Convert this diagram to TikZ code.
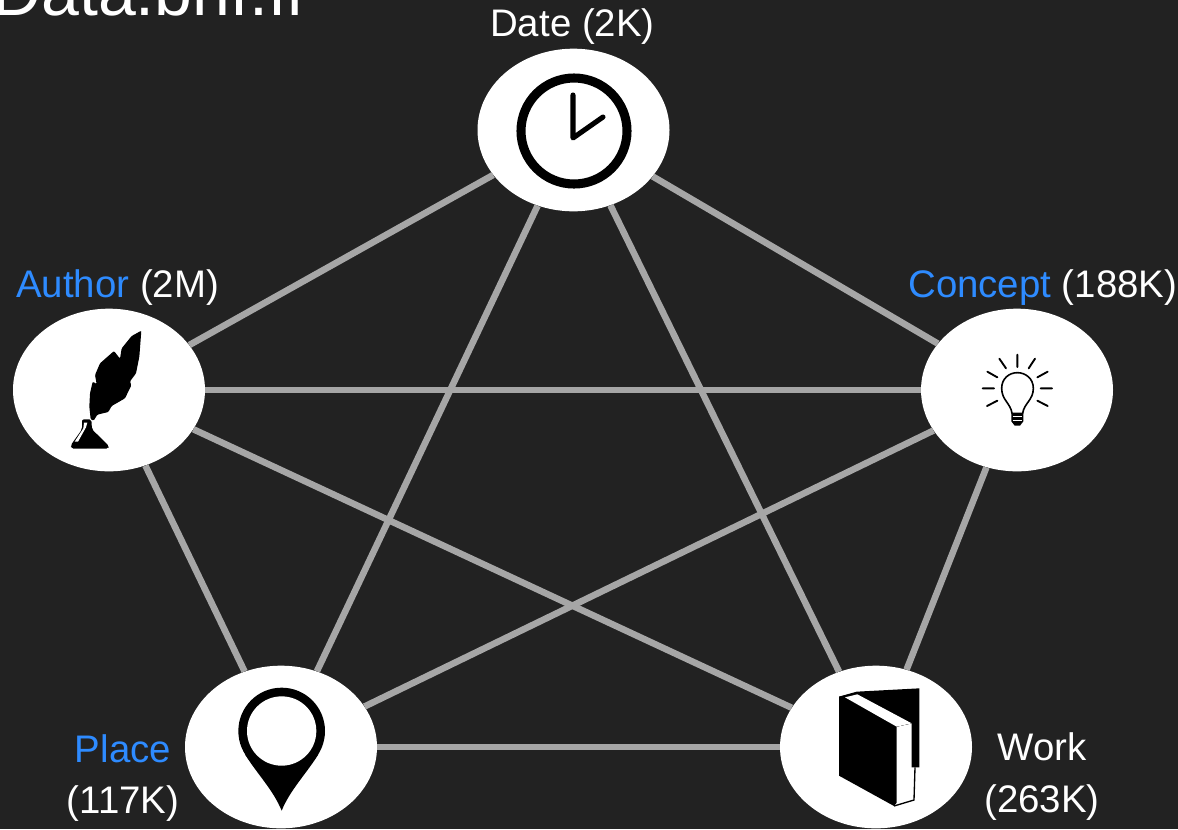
\documentclass[tikz,border=0pt]{standalone}
\usepackage{fontspec}
\setmainfont{Liberation Sans}
\usetikzlibrary{shapes.geometric}

\definecolor{slide}{HTML}{222222}
\definecolor{linkgray}{HTML}{A6A6A6}
\definecolor{classblue}{HTML}{2E8BFF}

\tikzset{
  entity/.style={ellipse,fill=white,inner sep=0pt,minimum width=144pt,minimum height=122pt},
  link/.style={linkgray,line width=4.9pt},
  caption/.style={text=white,inner sep=0pt,font=\fontsize{28.8}{34}\selectfont}
}

\begin{document}
\begin{tikzpicture}[x=0.75pt,y=-0.75pt]

    \clip (0,0) rectangle (1178,829);
    \fill[slide] (0,0) rectangle (1178,829);

    % Title, cut by the top edge
    \node[caption,anchor=base west,font=\fontsize{51}{60}\selectfont] (title) at (-8,15) {Data.bnf.fr};

    % The five classes
    \node[entity] (date) at (573.5,130) {};
    \node[entity] (author) at (109,390) {};
    \node[entity] (concept) at (1017,390) {};
    \node[entity] (place) at (281,747) {};
    \node[entity] (work) at (876,747) {};

    % Every class is linked to every other
    \draw[link] (date) -- (author);
    \draw[link] (date) -- (concept);
    \draw[link] (date) -- (place);
    \draw[link] (date) -- (work);
    \draw[link] (author) -- (concept);
    \draw[link] (author) -- (place);
    \draw[link] (author) -- (work);
    \draw[link] (concept) -- (place);
    \draw[link] (concept) -- (work);
    \draw[link] (place) -- (work);

    % Labels
    \node[caption,anchor=base west] (datelabel) at (490,36) {Date (2K)};
    \node[caption,anchor=base west] (authorlabel) at (16,297) {\textcolor{classblue}{Author} (2M)};
    \node[caption,anchor=base west] (conceptlabel) at (908,297) {\textcolor{classblue}{Concept} (188K)};
    \node[caption,anchor=base] (placelabel) at (123,762) {\textcolor{classblue}{Place}};
    \node[caption,anchor=base] (placecount) at (123,813) {(117K)};
    \node[caption,anchor=base] (worklabel) at (1042,760) {Work};
    \node[caption,anchor=base] (workcount) at (1042,812) {(263K)};

    % Clock
    \draw[black,line width=6.8pt] (574,131) circle (53);
    \draw[black,line width=3.8pt,line cap=round,line join=round] (573,95) -- (573,138) -- (603,117);

    % Quill and inkwell (coordinates read from a 3x crop)
    \begin{scope}[shift={(0,260)},x=0.25pt,y=-0.25pt]
      \fill[black,rounded corners=0.8pt] (424,212) -- (418,290) -- (408,340) -- (390,364) -- (394,376) -- (375,415)
        -- (335,438) -- (325,456) -- (292,464) -- (281,482) -- (272,478) -- (268,440) -- (270,400)
        -- (278,365) -- (290,372) -- (285,345) -- (300,310) -- (342,273) -- (360,296)
        -- (365,265) -- (395,228) -- cycle;
      \fill[black,rounded corners=1.5pt] (246,478) -- (274,478) -- (276,508) -- (327,558) -- (325,566)
        -- (214,566) -- (212,556) -- (246,508) -- cycle;
      \fill[white] (252,488) -- (262,488) -- (258,502) -- (234,545) -- (224,545) -- (250,505) -- cycle;
    \end{scope}

    % Light bulb
    \begin{scope}[shift={(900,260)},x=0.25pt,y=-0.25pt]
      \draw[black,line width=1.2pt,line join=round] (336,460) .. controls (332,430) and (305,420) .. (305,385)
        .. controls (305,355) and (328,338) .. (352,338) .. controls (376,338) and (400,355) .. (400,385)
        .. controls (400,420) and (372,430) .. (368,460) -- cycle;
      \fill[black] (334,460) -- (370,460) -- (370,484) -- (360,497) -- (344,497) -- (334,484) -- cycle;
      \draw[white,line width=0.5pt] (338,470) -- (366,470) (338,480) -- (366,480);
      \draw[black,line width=1.4pt,line cap=round] (352,284) -- (352,321) (298,296) -- (318,325)
        (405,296) -- (386,325) (262,335) -- (292,352) (443,335) -- (412,352) (248,385) -- (282,385)
        (456,385) -- (422,385) (261,438) -- (292,422) (443,438) -- (412,422);
    \end{scope}

    % Map pin
    \begin{scope}[shift={(50,660)},x=0.25pt,y=-0.25pt]
      \fill[black] (695,213) circle (130);
      \fill[black] (695,452) .. controls (670,390) and (620,340) .. (585,283) -- (805,283)
        .. controls (770,340) and (720,390) .. (695,452) -- cycle;
      \fill[white] (695,213) circle (104);
    \end{scope}

    % Book
    \begin{scope}[shift={(770,660)},x=0.25pt,y=-0.25pt]
      \fill[black] (207,110) -- (260,95) -- (448,85) -- (448,322) -- (425,322) -- (425,190) -- (380,200)
        -- (380,428) -- (372,438) -- (207,347) -- cycle;
      \fill[black] (207,110) -- (262,97) -- (425,190) -- (380,200) -- cycle;
      \fill[white] (225,112) -- (262,103) -- (425,190) -- (380,200) -- cycle;
      \draw[black,line width=1pt] (435,322) -- (432,420) -- (372,438);
    \end{scope}

\end{tikzpicture}
\end{document}
